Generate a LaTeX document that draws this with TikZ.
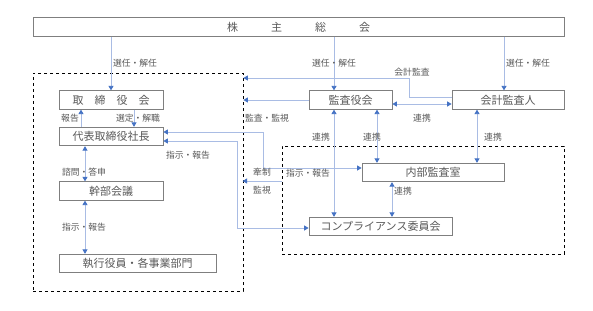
\documentclass[tikz,border=0pt]{standalone}
\usepackage{fontspec}
\usepackage{xcolor}
\usepackage{tikz}
\usetikzlibrary{arrows.meta,positioning}
\newfontfamily\jpfont{Noto Sans CJK JP}
\definecolor{boxgray}{HTML}{7F7F7F}
\definecolor{linkblue}{HTML}{A9BCE4}
\definecolor{tipblue}{HTML}{4472C4}
\definecolor{textgray}{HTML}{595959}

\begin{document}
\begin{tikzpicture}[x=1pt, y=-1pt, font=\jpfont, text=textgray,
    block/.style={rectangle, draw=boxgray, line width=0.8pt, inner sep=0pt, minimum height=18.5pt, font=\jpfont\fontsize{11}{11}\selectfont},
    group/.style={rectangle, draw=black, dashed, line width=0.8pt, inner sep=0pt},
    lbl/.style={inner sep=0pt, font=\jpfont\fontsize{8.8}{9}\selectfont},
    arrow/.style={draw=linkblue, line width=0.9pt, -{Triangle[length=4.5pt,width=5pt,color=tipblue]}},
    biarrow/.style={draw=linkblue, line width=0.9pt, {Triangle[length=4.5pt,width=5pt,color=tipblue]}-{Triangle[length=4.5pt,width=5pt,color=tipblue]}}]

    \fill[white] (0,0) rectangle (593,310);
    \useasboundingbox (0,0) rectangle (593,310);

    % groups
    \node[group, minimum width=210pt, minimum height=218pt] (inside) at (138,182) {};
    \node[group, minimum width=282pt, minimum height=108pt] (controls) at (423,200) {};

    \node[block, minimum width=531pt] (holders) at (298.5,27) {株　　　主　　　総　　　会};
    \node[block, minimum width=104pt] (board) at (111,100) {取　締　役　会};
    \node[block, minimum width=104pt] (president) at (111,136.5) {代表取締役社長};
    \node[block, minimum width=104pt] (execmeet) at (111,191) {幹部会議};
    \node[block, minimum width=157pt] (units) at (137.5,263.5) {執行役員・各事業部門};
    \node[block, minimum width=83pt] (kansa) at (350.5,100) {監査役会};
    \node[block, minimum width=112pt] (auditor) at (508,100) {会計監査人};
    \node[block, minimum width=142pt] (internal) at (433,172.5) {内部監査室};
    \node[block, minimum width=143pt] (compliance) at (380.5,226.5) {コンプライアンス委員会};

    \coordinate (k1) at (334,0);
    \coordinate (k2) at (377,0);
    \coordinate (a1) at (504,0);
    \coordinate (a2) at (477,0);
    \coordinate (b2) at (81,0);
    \coordinate (b3) at (134,0);
    \coordinate (b4) at (85,0);
    \coordinate (c1) at (392,0);
    \coordinate (acc) at (409,78);

    % shareholders
    \draw[arrow] (holders.south -| board.north) -- (board.north);
    \draw[arrow] (holders.south -| k1) -- (kansa.north -| k1);
    \draw[arrow] (holders.south -| a1) -- (auditor.north -| a1);
    \node[lbl] (elect1) at (135,63) {選任・解任};
    \node[lbl] (elect2) at (334,63) {選任・解任};
    \node[lbl] (elect3) at (528,63) {選任・解任};

    % left column
    \draw[arrow] (president.north -| b2) -- (board.south -| b2);
    \draw[arrow] (board.south -| b3) -- (president.north -| b3);
    \draw[biarrow] (president.south -| b4) -- (execmeet.north -| b4);
    \draw[biarrow] (execmeet.south -| b4) -- (units.north -| b4);
    \node[lbl] (report) at (70,118) {報告};
    \node[lbl] (appoint) at (138,118) {選定・解職};
    \node[lbl] (consult) at (84,172) {諮問・答申};
    \node[lbl] (order1) at (84,227) {指示・報告};

    % audit lines
    \draw[arrow] (kansa.west) -- (kansa.west -| inside.east);
    \draw[arrow] ([yshift=3pt]auditor.west) -| (acc) -- (acc -| inside.east);
    \draw[biarrow] ([yshift=-4pt]kansa.east) -- ([yshift=-4pt]auditor.west);
    \node[lbl] (audmon) at (267,118) {監査・監視};
    \node[lbl] (accaudit) at (412,72) {会計監査};
    \node[lbl] (link1) at (422,118) {連携};

    \draw[biarrow] (kansa.south -| k1) -- (compliance.north -| k1);
    \draw[biarrow] (kansa.south -| k2) -- (internal.north -| k2);
    \draw[biarrow] (auditor.south -| a2) -- (internal.north -| a2);
    \draw[biarrow] (internal.south -| c1) -- (compliance.north -| c1);
    \node[lbl] (link2) at (321,137) {連携};
    \node[lbl] (link3) at (372,137) {連携};
    \node[lbl] (link4) at (493,137) {連携};
    \node[lbl] (link5) at (403,191) {連携};

    % president to controls
    \draw[biarrow] ([yshift=4.5pt]president.east) -- ++(100,0) |- ([yshift=4.5pt]internal.west);
    \draw[biarrow] ([yshift=-4.5pt]president.east) -- ++(74,0) |- ([yshift=-1.5pt]compliance.west);
    \draw[arrow] ([yshift=19pt]controls.west) -- ++(-39,0);
    \node[lbl] (order2) at (188,155) {指示・報告};
    \node[lbl] (order3) at (308,173) {指示・報告};
    \node[lbl] (check) at (262,172) {牽制};
    \node[lbl] (watch) at (262,190) {監視};
\end{tikzpicture}
\end{document}
